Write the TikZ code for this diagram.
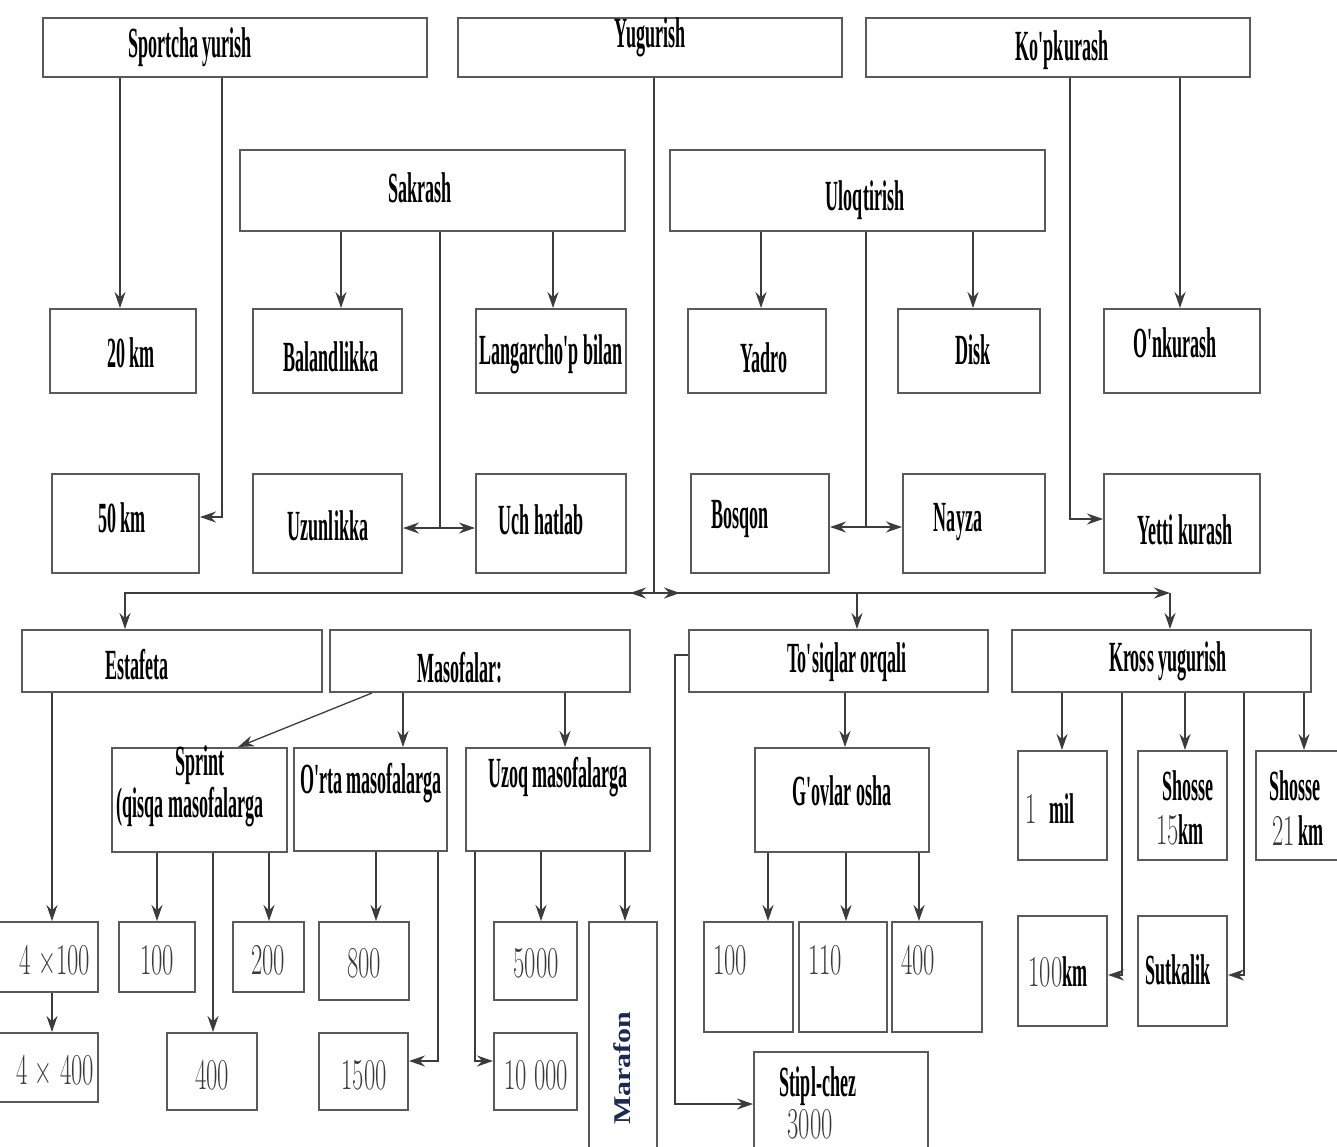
\documentclass[tikz,border=0pt]{standalone}
\usepackage{fontspec}
\newfontfamily\tnr{Liberation Serif}
\usetikzlibrary{arrows.meta,fit}
\definecolor{boxgray}{HTML}{5A5A5A}
\definecolor{linegray}{HTML}{3C3C3C}
\definecolor{numgray}{HTML}{3A3A3A}
\definecolor{navy}{HTML}{1B2A55}
\newcommand\tb[1]{{\tnr\bfseries\fontsize{43}{46}\selectfont\scalebox{0.42}[1]{#1}}}
\newcommand\tn[1]{{\fontsize{44}{48}\selectfont\color{numgray}\scalebox{0.56}[1]{#1}}}
\newcommand\mkbox[5]{\coordinate (#1-a) at (#2,#3); \coordinate (#1-b) at (#4,#5); \node[box, fit=(#1-a)(#1-b)] (#1) {};}
\tikzset{
  box/.style={draw=boxgray, line width=2pt, inner sep=0pt, rectangle},
  txt/.style={inner sep=0pt, text=black},
  ln/.style={draw=linegray, line width=1.3pt},
  arr/.style={ln, -{Stealth[length=16pt,width=11pt]}},
  darr/.style={ln, {Stealth[length=16pt,width=11pt]}-{Stealth[length=16pt,width=11pt]}},
}
\begin{document}
\begin{tikzpicture}[x=1pt,y=-1pt]
\useasboundingbox (0,0) rectangle (1337,1146);
\fill[white] (0,0) rectangle (1337,1146);
% boxes
\mkbox{spy}{43}{18}{427}{77}
\mkbox{yug}{458}{18}{842}{77}
\mkbox{kop}{866}{18}{1250}{77}
\mkbox{sak}{240}{150}{625}{231}
\mkbox{ulo}{670}{150}{1045}{231}
\mkbox{km20}{50}{309}{196}{393}
\mkbox{bal}{253}{309}{402}{393}
\mkbox{lan}{476}{309}{626}{393}
\mkbox{yad}{688}{309}{826}{393}
\mkbox{dis}{898}{309}{1040}{393}
\mkbox{onk}{1104}{309}{1260}{393}
\mkbox{km50}{52}{474}{199}{573}
\mkbox{uzu}{253}{474}{402}{573}
\mkbox{uch}{476}{474}{626}{573}
\mkbox{bos}{691}{474}{829}{573}
\mkbox{nay}{903}{474}{1045}{573}
\mkbox{yet}{1104}{474}{1260}{573}
\mkbox{est}{22}{630}{322}{692}
\mkbox{mas}{330}{630}{630}{692}
\mkbox{tos}{689}{630}{988}{692}
\mkbox{kro}{1012}{630}{1311}{692}
\mkbox{spr}{112}{748}{287}{852}
\mkbox{orta}{294}{748}{447}{851}
\mkbox{uzoq}{466}{748}{650}{851}
\mkbox{gov}{755}{748}{929}{852}
\mkbox{mil}{1018}{751}{1107}{860}
\mkbox{shA}{1138}{751}{1227}{860}
\mkbox{shB}{1256}{751}{1350}{860}
\mkbox{eA}{-4}{922}{98}{992}
\mkbox{sA}{119}{922}{195}{992}
\mkbox{sB}{233}{922}{304}{992}
\mkbox{oA}{319}{922}{409}{1000}
\mkbox{uA}{494}{922}{577}{1000}
\mkbox{mar}{589}{922}{657}{1165}
\mkbox{tA}{704}{922}{793}{1032}
\mkbox{tB}{799}{922}{887}{1032}
\mkbox{tC}{892}{922}{982}{1032}
\mkbox{kA}{1018}{916}{1107}{1026}
\mkbox{sut}{1138}{916}{1227}{1026}
\mkbox{eB}{-4}{1033}{98}{1102}
\mkbox{sC}{167}{1033}{257}{1110}
\mkbox{oB}{319}{1033}{408}{1110}
\mkbox{uB}{494}{1033}{577}{1110}
\mkbox{sti}{754}{1052}{928}{1165}
% texts
\node[txt] (t-spy) at (190,47) {\tb{Sportcha yurish}};
\node[txt] (t-yug) at (650,37) {\tb{Yugurish}};
\node[txt] (t-kop) at (1062,50) {\tb{Ko'pkurash}};
\node[txt] (t-sak) at (420,188) {\tb{Sakrash}};
\node[txt] (t-ulo) at (865,200) {\tb{Uloqtirish}};
\node[txt] (t-km20) at (131,353) {\tb{20 km}};
\node[txt] (t-bal) at (331,357) {\tb{Balandlikka}};
\node[txt] (t-lan) at (551,354) {\tb{Langarcho'p bilan}};
\node[txt] (t-yad) at (764,358) {\tb{Yadro}};
\node[txt] (t-dis) at (973,350) {\tb{Disk}};
\node[txt] (t-onk) at (1175,343) {\tb{O'nkurash}};
\node[txt] (t-km50) at (122,518) {\tb{50 km}};
\node[txt] (t-uzu) at (328,526) {\tb{Uzunlikka}};
\node[txt] (t-uch) at (541,520) {\tb{Uch hatlab}};
\node[txt] (t-bos) at (740,519) {\tb{Bosqon}};
\node[txt] (t-nay) at (958,522) {\tb{Nayza}};
\node[txt] (t-yet) at (1185,530) {\tb{Yetti kurash}};
\node[txt] (t-est) at (137,665) {\tb{Estafeta}};
\node[txt] (t-mas) at (460,668) {\tb{Masofalar:}};
\node[txt] (t-tos) at (847,662) {\tb{To'siqlar orqali}};
\node[txt] (t-kro) at (1168,661) {\tb{Kross yugurish}};
\node[txt] (t-spr) at (200,765) {\tb{Sprint}};
\node[txt] (t-spr2) at (190,807) {\tb{(qisqa masofalarga}};
\node[txt] (t-orta) at (371,783) {\tb{O'rta masofalarga}};
\node[txt] (t-uzoq) at (558,777) {\tb{Uzoq masofalarga}};
\node[txt] (t-gov) at (842,791) {\tb{G'ovlar osha}};
\node[txt] (t-mil) at (1050,809) {\tn{1}\hspace{12pt}\tb{mil}};
\node[txt] (t-shA) at (1188,786) {\tb{Shosse}};
\node[txt] (t-shA2) at (1180,830) {\tn{15}\tb{km}};
\node[txt] (t-shB) at (1295,786) {\tb{Shosse}};
\node[txt] (t-shB2) at (1298,831) {\tn{21}\hspace{3pt}\tb{km}};
\node[txt] (t-eA) at (55,960) {\tn{4 ×100}};
\node[txt] (t-sA) at (157,960) {\tn{100}};
\node[txt] (t-sB) at (268,960) {\tn{200}};
\node[txt] (t-oA) at (364,963) {\tn{800}};
\node[txt] (t-uA) at (536,963) {\tn{5000}};
\node[txt] (t-tA) at (730,960) {\tn{100}};
\node[txt] (t-tB) at (825,960) {\tn{110}};
\node[txt] (t-tC) at (918,960) {\tn{400}};
\node[txt] (t-kA) at (1058,972) {\tn{100}\tb{km}};
\node[txt] (t-sut) at (1178,970) {\tb{Sutkalik}};
\node[txt] (t-eB) at (55,1070) {\tn{4 × 400}};
\node[txt] (t-sC) at (212,1075) {\tn{400}};
\node[txt] (t-oB) at (364,1075) {\tn{1500}};
\node[txt] (t-uB) at (536,1075) {\tn{10 000}};
\node[txt] (t-sti) at (818,1086) {\tb{Stipl-chez}};
\node[txt] (t-sti2) at (810,1124) {\tn{3000}};
\node[txt, rotate=90] (t-mar) at (622,1068) {{\tnr\bfseries\fontsize{24}{26}\selectfont\color{navy}\scalebox{1.25}[1]{Marafon}}};
% junctions
\coordinate (j1) at (440,528);
\coordinate (j2) at (866,527);
\coordinate (j3) at (654,593);
\coordinate (j4) at (1170,593);
\coordinate (j5) at (857,593);
\coordinate (j6) at (675,655);
% Sportcha yurish
\draw[arr] (spy.south -| 120,0) -- (km20.north -| 120,0);
\draw[arr] (spy.south -| 222,0) |- (km50.east |- 0,517);
% Sakrash
\draw[arr] (sak.south -| 341,0) -- (bal.north -| 341,0);
\draw[arr] (sak.south -| 553,0) -- (lan.north -| 553,0);
\draw[ln] (sak.south -| j1) -- (j1);
\draw[darr] (uzu.east |- j1) -- (uch.west |- j1);
% Uloqtirish
\draw[arr] (ulo.south -| 761,0) -- (yad.north -| 761,0);
\draw[arr] (ulo.south -| 973,0) -- (dis.north -| 973,0);
\draw[ln] (ulo.south -| j2) -- (j2);
\draw[darr] (bos.east |- j2) -- (nay.west |- j2);
% Ko'pkurash
\draw[arr] (kop.south -| 1070,0) |- (yet.west |- 0,519);
\draw[arr] (kop.south -| 1180,0) -- (onk.north -| 1180,0);
% Yugurish
\draw[ln] (yug.south -| j3) -- (j3);
\draw[arr] (j3) -| (est.north -| 125,0);
\draw[arr] (j3) -- ++(-24,0);
\draw[arr] (j3) -- ++(26,0);
\draw[arr] (j3) -- (j4);
\draw[arr] (j4) -- (kro.north -| j4);
\draw[arr] (j5) -- (tos.north -| j5);
% Estafeta
\draw[arr] (est.south -| 52,0) -- (eA.north -| 52,0);
\draw[arr] (eA.south -| 52,0) -- (eB.north -| 52,0);
% Masofalar
\draw[arr] (mas.south -| 372,0) -- (spr.north -| 238,0);
\draw[arr] (mas.south -| 403,0) -- (orta.north -| 403,0);
\draw[arr] (mas.south -| 565,0) -- (uzoq.north -| 565,0);
% Sprint
\draw[arr] (spr.south -| 157,0) -- (sA.north -| 157,0);
\draw[arr] (spr.south -| 269,0) -- (sB.north -| 269,0);
\draw[arr] (spr.south -| 213,0) -- (sC.north -| 213,0);
% O'rta
\draw[arr] (orta.south -| 376,0) -- (oA.north -| 376,0);
\draw[arr] (orta.south -| 438,0) |- (oB.east |- 0,1061);
% Uzoq
\draw[arr] (uzoq.south -| 541,0) -- (uA.north -| 541,0);
\draw[arr] (uzoq.south -| 625,0) -- (mar.north -| 625,0);
\draw[arr] (uzoq.south -| 475,0) |- (uB.west |- 0,1061);
% To'siqlar
\draw[arr] (tos.south -| 845,0) -- (gov.north -| 845,0);
\draw[arr] (tos.west |- j6) -- (j6) |- (sti.west |- 0,1104);
\draw[arr] (gov.south -| 768,0) -- (tA.north -| 768,0);
\draw[arr] (gov.south -| 846,0) -- (tB.north -| 846,0);
\draw[arr] (gov.south -| 919,0) -- (tC.north -| 919,0);
% Kross
\draw[arr] (kro.south -| 1062,0) -- (mil.north -| 1062,0);
\draw[arr] (kro.south -| 1185,0) -- (shA.north -| 1185,0);
\draw[arr] (kro.south -| 1304,0) -- (shB.north -| 1304,0);
\draw[arr] (kro.south -| 1122,0) |- (kA.east |- 0,975);
\draw[arr] (kro.south -| 1244,0) |- (sut.east |- 0,975);
\end{tikzpicture}
\end{document}
